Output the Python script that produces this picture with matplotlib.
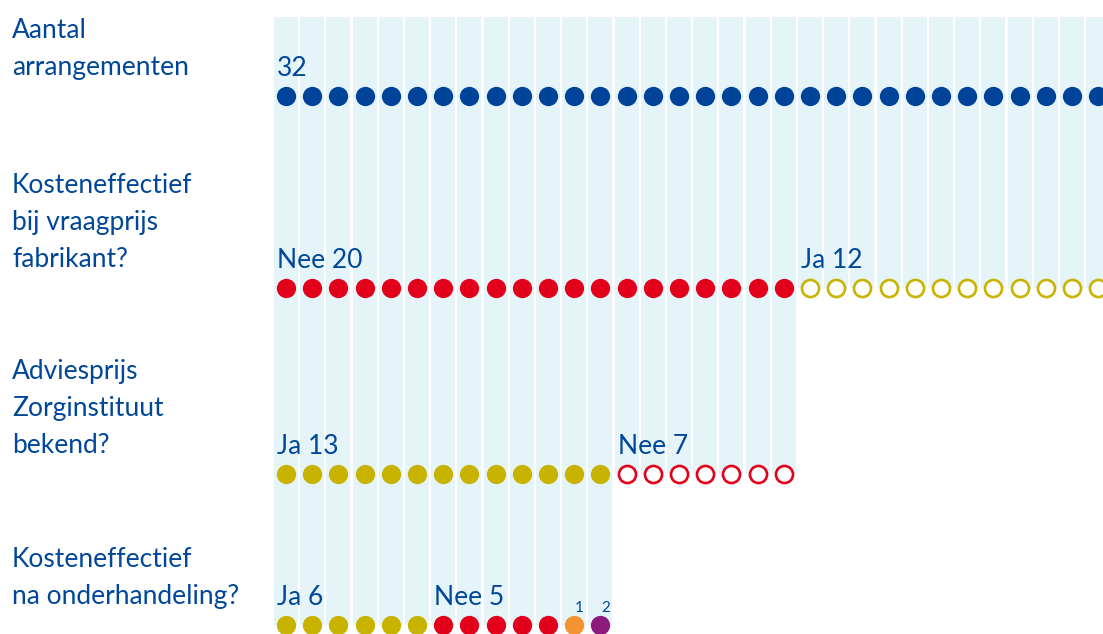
import matplotlib
matplotlib.use("Agg")
import matplotlib.pyplot as plt

plt.rcParams['font.family'] = ['Lato', 'DejaVu Sans']

# ---- data ----
row_labels = [
    ["Aantal", "arrangementen"],
    ["Kosteneffectief", "bij vraagprijs", "fabrikant?"],
    ["Adviesprijs", "Zorginstituut", "bekend?"],
    ["Kosteneffectief", "na onderhandeling?"],
]
seg_names = [[""], ["Nee", "Ja"], ["Ja", "Nee"], ["Ja", "Nee", "", ""]]
seg_counts = [[32], [20, 12], [13, 7], [6, 5, 1, 1]]
seg_notes = [[""], ["", ""], ["", ""], ["", "", "1", "2"]]
seg_colors = [["#00449a"], ["#e2001a", "#c8b400"], ["#c8b400", "#e2001a"],
              ["#c8b400", "#e2001a", "#f39430", "#8c1a7f"]]
seg_filled = [[True], [True, False], [True, False], [True, True, True, True]]

# ---- layout (pixels) ----
W, H = 1103, 634
row_y = [96, 288, 474, 625]
x_first = 286.0
step = 26.2
band_top = 17
text_color = "#00479a"
band_color = "#e5f4f9"

fig = plt.figure(figsize=(W / 100, H / 100), dpi=100)
ax = fig.add_axes([0, 0, 1, 1])
ax.set_xlim(-x_first / step, (W - x_first) / step)
ax.set_ylim(H, 0)
ax.axis('off')

# bands: each column extends down to the lowest row that has a dot in it
ncols = sum(seg_counts[0])
col_bottom = [band_top] * ncols
for r, counts in enumerate(seg_counts):
    total = sum(counts)
    for c in range(total):
        col_bottom[c] = row_y[r]
for c in range(ncols):
    ax.bar(c, col_bottom[c] - band_top, bottom=band_top, width=24 / step,
           color=band_color, linewidth=0, zorder=1)

px_to_data = 1 / step
for r, lines in enumerate(row_labels):
    y = row_y[r]
    # left label lines (baseline of last line 21px above dot row)
    n = len(lines)
    for k, line in enumerate(lines):
        by = y - 21 - (n - 1 - k) * 37
        ax.text(-x_first / step + 12 * px_to_data, by, line, fontsize=19,
                color=text_color, va='baseline', ha='left', zorder=3)
    start = 0
    for s, cnt in enumerate(seg_counts[r]):
        xs = list(range(start, start + cnt))
        ys = [y] * cnt
        col = seg_colors[r][s]
        if seg_filled[r][s]:
            ax.plot(xs, ys, 'o', ms=13.9, mfc=col, mec='none', zorder=4)
        else:
            ax.plot(xs, ys, 'o', ms=12.3, mfc='white', mec=col, mew=1.9, zorder=4)
        name = seg_names[r][s]
        label = (name + " " + str(cnt)).strip()
        if seg_notes[r][s]:
            ax.text(start + 5 * px_to_data, y - 13, seg_notes[r][s], fontsize=11,
                    color=text_color, va='baseline', ha='center', zorder=5)
        else:
            ax.text(start - 9 * px_to_data, y - 20, label, fontsize=19,
                    color=text_color, va='baseline', ha='left', zorder=5)
        start += cnt

fig.savefig("out.png", dpi=100)
